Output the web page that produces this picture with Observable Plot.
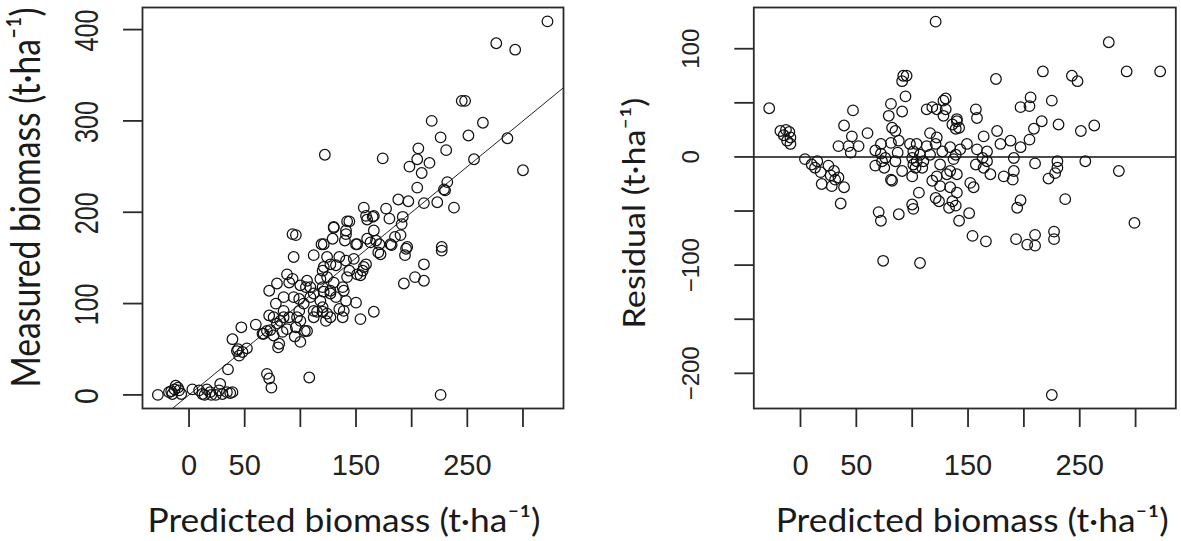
<!DOCTYPE html>
<html><head><meta charset="utf-8">
<script src="https://cdn.jsdelivr.net/npm/d3@7"></script>
<script src="https://cdn.jsdelivr.net/npm/@observablehq/plot@0.6"></script>
<style>
html,body{margin:0;padding:0;background:#fff;}
#wrap{display:flex;width:1181px;height:541px;overflow:hidden;}
#wrap svg{display:block;}
</style></head><body><div id="wrap"></div>
<script>
// ---- Left panel: predicted vs measured biomass (t/ha)
const leftPredicted = [-28,-18,-15,-13,-12,-9,-7,-10,-16,3,9,12,14,16,19,20,24,27,28,30,34,37,39,35,43,45,48,52,44,39,47,60,70,72,74,108,226,70,76,67,73,79,81,84,88,76,85,82,96,100,97,106,72,79,78,72,93,100,106,99,109,103,99,120,124,123,112,121,127,88,90,105,109,85,85,90,100,94,80,95,66,112,118,120,132,141,139,150,112,115,135,127,138,154,166,118,120,124,130,127,142,138,139,151,157,124,127,121,120,132,135,141,144,148,159,156,154,172,94,112,129,121,140,151,166,168,163,171,181,185,190,196,194,227,227,93,96,130,141,144,141,157,159,166,177,180,192,191,188,197,211,223,232,230,238,205,211,203,211,193,122,174,256,322,276,293,245,248,218,264,226,251,286,231,206,205,198,216,209,300,229,165,170,160,182,195,130,142,119,160,104,150];
const leftMeasured = [0,3,1,6,10,5,1,8,4,6,5,1,0,6,3,0,0,5,12,1,3,2,3,28,48,43,47,51,50,61,74,77,23,18,8,19,0,70,65,67,71,78,56,69,72,85,85,81,74,58,85,70,114,122,100,87,127,120,125,105,107,100,92,91,89,81,85,113,111,132,123,118,118,107,92,85,81,107,52,64,67,111,103,96,107,103,92,101,92,91,94,85,85,83,91,127,118,129,123,114,129,118,114,132,140,151,143,140,136,142,151,147,136,149,143,136,131,154,151,153,171,165,169,165,180,169,167,165,165,173,175,162,153,162,158,176,175,183,180,190,176,205,196,196,204,193,195,187,214,212,210,211,233,224,205,227,143,129,125,122,263,259,258,409,385,378,322,322,300,298,282,284,281,268,270,258,250,254,243,246,225,195,156,171,164,160,184,190,165,192,70,165];
const fitLine = [-15, 340];           // 1:1 line, predicted = measured

// ---- Right panel: predicted vs residual (t/ha)
const rightPredicted = [-28,-18,-13,-10,-15,-9,-12,-9,4,10,13,15,18,19,25,27,30,31,34,28,39,36,47,39,46,34,43,45,52,60,67,72,72,73,76,75,67,81,79,82,85,81,88,87,85,91,81,82,91,92,95,91,94,98,101,100,104,103,104,107,110,109,101,100,106,100,101,88,70,72,74,107,113,118,122,128,130,116,122,121,127,113,116,125,122,118,125,124,121,131,134,136,133,121,130,128,136,140,134,139,137,134,140,142,139,157,158,140,142,139,176,164,179,188,191,167,158,149,143,163,167,157,164,170,182,190,191,152,155,140,151,154,166,175,217,243,248,292,322,276,206,197,205,225,216,209,205,197,231,251,263,210,230,230,228,222,255,285,197,194,237,299,193,203,210,210,227,227,225];
const rightResidual = [45,24,25,23,20,18,15,12,-2,-7,-10,-4,-14,-25,-8,-17,-13,-21,-19,-27,-28,-43,43,29,19,10,10,4,10,22,6,12,3,-4,-1,-10,-8,49,38,27,24,13,15,4,-4,-13,-21,-22,42,75,75,70,56,12,5,-1,-4,-10,12,2,-4,-10,-7,-18,-33,-44,-48,-53,-51,-59,-96,-98,44,46,44,52,44,22,18,12,5,10,2,-7,-18,-22,-27,-41,-38,-16,-28,-41,-47,125,54,38,30,35,9,2,-2,-13,-16,-59,-45,44,36,33,27,26,24,19,12,15,-1,5,7,12,7,-1,-4,-7,-10,-16,-18,-21,-13,-24,-28,-33,-52,-73,-78,72,79,75,70,79,79,106,55,46,47,52,33,26,16,9,30,24,29,-6,-4,-10,-15,-20,-4,-13,-40,-47,-39,-61,-76,-81,-72,-82,-69,-76,-220];
const refZero = [0];

// ---- Ticks and labels
const xTicks = [0, 50, 100, 150, 200, 250, 300];
const xTickLabels = [0, 50, 150, 250];
const leftYTicks = [0, 100, 200, 300, 400];
const rightYTicks = [-200, -150, -100, -50, 0, 50, 100];
const rightYLabels = [-200, -100, 0, 100];
const xTitle = "Predicted biomass (t\u00B7ha\u207B\u00B9)";
const leftYTitle = "Measured biomass (t\u00B7ha\u207B\u00B9)";
const rightYTitle = "Residual (t\u00B7ha\u207B\u00B9)";

const numFmt = d => (d < 0 ? "\u2212" + Math.abs(d) : String(d));
const tickFont = "'Liberation Sans', Arial, sans-serif";
const titleFont = "Lato, 'Open Sans', sans-serif";
const ink = "#1a1a1a";

const leftData = leftPredicted.map((x, i) => ({x, y: leftMeasured[i]}));
const rightData = rightPredicted.map((x, i) => ({x, y: rightResidual[i]}));

const left = Plot.plot({
  width: 590, height: 541,
  marginLeft: 142, marginRight: 27, marginTop: 7, marginBottom: 133,
  x: {domain: [-41.8, 336.4]},
  y: {domain: [-14.9, 424.2]},
  style: {background: "transparent", overflow: "visible"},
  marks: [
    Plot.line(fitLine, {x: d => d, y: d => d, stroke: "#222", strokeWidth: 1, clip: true}),
    Plot.dot(leftData, {x: "x", y: "y", r: 5.3, stroke: "#111", strokeWidth: 1.25, fill: "none"}),
    Plot.frame({stroke: "#2a2a2a", strokeWidth: 1.8}),
    Plot.axisX({ticks: xTicks, tickSize: 19, tickFormat: () => "", label: null, stroke: "#2a2a2a", strokeWidth: 1.8}),
    Plot.axisY({ticks: leftYTicks, tickSize: 19, tickFormat: () => "", label: null, stroke: "#2a2a2a", strokeWidth: 1.8}),
    Plot.text(xTickLabels, {x: d => d, text: d => numFmt(d), frameAnchor: "bottom", dy: 57, lineAnchor: "middle", fontSize: 29, fontFamily: tickFont, fill: "#222"}),
    Plot.text(leftYTicks, {y: d => d, text: d => numFmt(d), frameAnchor: "left", dx: -55, dy: 1, rotate: -90, textAnchor: "middle", lineAnchor: "middle", fontSize: 34, fontFamily: tickFont, fill: "#222"}),
    Plot.text([xTitle], {text: d => d, frameAnchor: "bottom", dx: -9, dy: 113.3, lineAnchor: "middle", fontSize: 32.5, fontFamily: titleFont, fill: ink}),
    Plot.text([leftYTitle], {text: d => d, frameAnchor: "left", dx: -116, dy: -10.5, rotate: -90, textAnchor: "middle", lineAnchor: "middle", fontSize: 41, fontFamily: titleFont, fill: ink})
  ]
});

const right = Plot.plot({
  width: 591, height: 541,
  marginLeft: 163.3, marginRight: 5.7, marginTop: 7, marginBottom: 133,
  x: {domain: [-41.8, 336]},
  y: {domain: [-232.5, 138.1]},
  style: {background: "transparent", overflow: "visible"},
  marks: [
    Plot.ruleY(refZero, {stroke: "#111", strokeWidth: 1.5}),
    Plot.dot(rightData, {x: "x", y: "y", r: 5.3, stroke: "#111", strokeWidth: 1.25, fill: "none"}),
    Plot.frame({stroke: "#2a2a2a", strokeWidth: 1.8}),
    Plot.axisX({ticks: xTicks, tickSize: 19, tickFormat: () => "", label: null, stroke: "#2a2a2a", strokeWidth: 1.8}),
    Plot.axisY({ticks: rightYTicks, tickSize: 19, tickFormat: () => "", label: null, stroke: "#2a2a2a", strokeWidth: 1.8}),
    Plot.text(xTickLabels, {x: d => d, text: d => numFmt(d), frameAnchor: "bottom", dy: 57, lineAnchor: "middle", fontSize: 29, fontFamily: tickFont, fill: "#222"}),
    Plot.text(rightYLabels, {y: d => d, text: d => numFmt(d), frameAnchor: "left", dx: -62, rotate: -90, textAnchor: "middle", lineAnchor: "middle", fontSize: 24, fontFamily: tickFont, fill: "#222"}),
    Plot.text([xTitle], {text: d => d, frameAnchor: "bottom", dx: 7.4, dy: 113.3, lineAnchor: "middle", fontSize: 32.5, fontFamily: titleFont, fill: ink}),
    Plot.text([rightYTitle], {text: d => d, frameAnchor: "left", dx: -119, dy: 5, rotate: -90, textAnchor: "middle", lineAnchor: "middle", fontSize: 31, fontFamily: titleFont, fill: ink})
  ]
});

const wrap = document.getElementById("wrap");
wrap.appendChild(left);
wrap.appendChild(right);

// Reference text is stretched across its line; reproduce it by picking the font size
// that gives the right length and scaling the glyph height back up.
function squeeze(el, target) {
  const natural = el.getComputedTextLength();
  if (!natural) return;
  const fs = parseFloat(getComputedStyle(el).fontSize);
  const k = target / natural;
  el.style.fontSize = (fs * k) + "px";
  const tr = el.getAttribute("transform") || "";
  el.setAttribute("transform", (tr + " scale(1," + (1 / k) + ")").trim());
}
function fitText(svg, rules) {
  d3.select(svg).selectAll("text").each(function () {
    const t = this.textContent;
    const rotated = (this.getAttribute("transform") || "").includes("rotate");
    for (const r of rules) {
      if (r.test(t, rotated)) { r.apply(this, t); break; }
    }
  });
}
const setLen = len => (el) => { el.setAttribute("textLength", len); el.setAttribute("lengthAdjust", "spacingAndGlyphs"); };
fitText(left, [
  {test: t => t === xTitle, apply: setLen(393)},
  {test: (t, rot) => rot && t === leftYTitle, apply: el => squeeze(el, 380)},
  {test: (t, rot) => rot && /^\d+$/.test(t), apply: (el, t) => squeeze(el, t.length === 1 ? 16 : 42)}
]);
fitText(right, [
  {test: t => t === xTitle, apply: setLen(393)},
  {test: (t, rot) => rot && t === rightYTitle, apply: el => squeeze(el, 231)}
]);
</script>
</body></html>
